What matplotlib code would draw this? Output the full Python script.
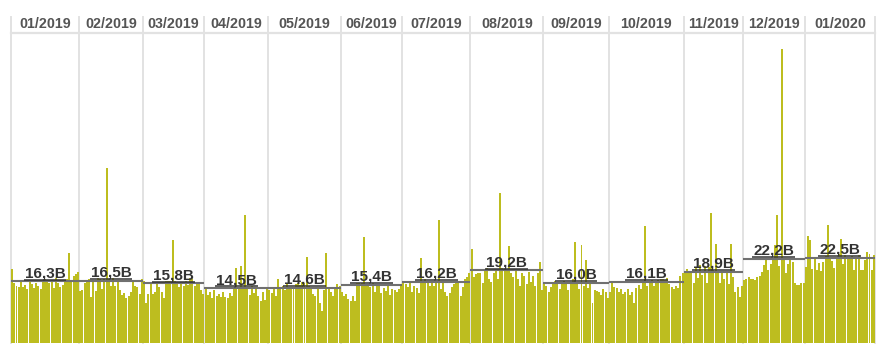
import matplotlib
matplotlib.use('Agg')
import matplotlib.pyplot as plt
import matplotlib.transforms as mtransforms
import numpy as np

plt.rcParams['font.family'] = ['Liberation Sans', 'DejaVu Sans']

months = ['01/2019', '02/2019', '03/2019', '04/2019', '05/2019', '06/2019', '07/2019',
          '08/2019', '09/2019', '10/2019', '11/2019', '12/2019', '01/2020']
avg_values = [16.3, 16.5, 15.8, 14.5, 14.6, 15.4, 16.2, 19.2, 16.0, 16.1, 18.9, 22.2, 22.5]
avg_labels = ['16,3B', '16,5B', '15,8B', '14,5B', '14,6B', '15,4B', '16,2B',
              '19,2B', '16,0B', '16,1B', '18,9B', '22,2B', '22,5B']

# daily values, in billions
jan19 = [19.5, 16.0, 15.2, 14.8, 16.4, 14.9, 15.3, 14.4, 16.5, 15.6, 14.6, 16.0, 15.0, 14.3, 16.2, 16.8,
         16.4, 15.8, 16.6, 14.5, 17.2, 16.0, 14.8, 15.3, 16.6, 17.0, 23.9, 16.4, 17.8, 18.3, 18.9]
feb19 = [13.8, 13.9, 15.8, 16.6, 17.0, 12.2, 16.5, 13.7, 17.2, 16.8, 14.3, 16.9, 46.2, 16.8, 15.0,
         17.3, 15.2, 16.4, 14.0, 12.6, 13.2, 11.8, 12.5, 13.5, 16.6, 15.0, 14.8, 13.0, 17.0]
mar19 = [16.3, 10.6, 13.0, 15.6, 13.0, 13.6, 15.6, 14.9, 13.5, 12.0, 16.3, 16.5, 16.3, 27.2, 16.5,
         16.0, 14.8, 16.2, 15.2, 16.4, 15.3, 17.3, 16.9, 15.2, 16.0, 15.5, 14.0, 13.0]
apr19 = [14.2, 12.8, 13.4, 12.0, 14.0, 12.5, 13.0, 12.3, 13.5, 12.2, 12.0, 13.2, 12.4, 14.8, 19.8,
         14.4, 20.4, 14.6, 33.9, 14.2, 12.6, 15.0, 13.2, 14.2, 12.4, 11.2, 13.5, 11.5, 14.2]
may19 = [14.0, 13.2, 14.3, 12.5, 16.8, 14.6, 15.0, 14.0, 15.5, 14.4, 14.6, 14.2, 15.6, 16.0, 15.3,
         16.2, 15.8, 22.8, 15.0, 14.4, 13.0, 12.5, 14.2, 10.5, 8.5, 14.0, 23.9, 14.2, 13.4, 12.4,
         14.8, 15.6, 15.0]
jun19 = [13.6, 12.4, 13.0, 11.6, 11.2, 12.4, 11.0, 15.8, 16.0, 15.8, 28.0, 15.2, 15.4, 14.8, 15.8,
         13.6, 15.6, 15.6, 13.2, 14.6, 13.8, 15.6, 12.8, 14.4, 14.0, 13.6, 14.4, 15.6]
jul19 = [16.5, 15.5, 14.8, 16.5, 13.6, 15.0, 14.6, 13.2, 22.4, 16.2, 16.8, 16.0, 15.2, 16.5, 15.0,
         16.0, 32.5, 14.3, 16.0, 13.5, 12.5, 13.2, 14.8, 15.6, 16.4, 16.0, 12.5, 14.8, 16.8, 17.5, 18.4]
aug19 = [24.9, 17.5, 18.3, 18.4, 18.6, 16.0, 19.0, 19.8, 17.0, 16.2, 18.5, 19.4, 17.0, 39.7, 19.8,
         19.5, 19.0, 25.7, 18.4, 17.4, 19.6, 16.8, 15.2, 18.6, 17.6, 15.5, 18.8, 16.2, 17.8, 15.0,
         18.4, 21.3, 14.0]
sep19 = [16.2, 15.0, 13.5, 14.8, 16.2, 16.4, 15.6, 14.2, 16.0, 16.5, 15.5, 14.0, 16.2, 16.8, 26.8,
         16.2, 14.4, 25.9, 15.0, 22.0, 14.6, 15.8, 10.7, 14.0, 13.8, 13.6, 12.6, 14.2, 13.4, 12.0]
oct19 = [13.6, 16.2, 14.8, 14.6, 13.4, 14.2, 13.0, 13.6, 14.2, 12.6, 13.4, 10.5, 14.6, 15.4, 14.4,
         15.8, 31.0, 15.0, 16.2, 16.6, 15.0, 16.2, 16.6, 17.0, 16.8, 16.6, 17.2, 15.6, 14.8, 14.4,
         15.2, 14.6, 17.6, 18.4]
nov19 = [18.4, 19.6, 18.9, 18.6, 15.8, 20.0, 17.1, 20.6, 18.0, 20.5, 16.0, 20.2, 34.4, 19.4, 26.2,
         19.0, 15.8, 18.4, 17.0, 19.0, 15.6, 26.2, 17.4, 13.6, 14.8, 12.2, 15.0]
dec19 = [16.6, 17.0, 17.4, 17.0, 17.0, 16.6, 17.4, 17.8, 18.9, 20.6, 22.0, 19.4, 21.0, 22.6, 25.8,
         33.9, 20.4, 77.8, 22.0, 18.4, 20.8, 22.6, 21.5, 16.0, 15.4, 15.4, 15.8, 16.0]
jan20 = [20.0, 28.3, 27.2, 19.5, 22.8, 19.2, 21.1, 19.0, 21.5, 23.0, 31.2, 22.2, 21.6, 19.8, 22.8,
         23.6, 27.4, 21.0, 23.3, 22.4, 22.4, 23.0, 19.4, 22.6, 23.2, 19.3, 19.3, 22.0, 24.0, 23.6,
         19.2, 23.4]

daily = [jan19, feb19, mar19, apr19, may19, jun19, jul19, aug19, sep19, oct19, nov19, dec19, jan20]

BAR = '#BDBD1F'
SEP = '#e2e2e2'

values = np.concatenate([np.array(m, dtype=float) for m in daily])
counts = np.array([len(m) for m in daily])
bounds = np.concatenate([[0], np.cumsum(counts)]) - 0.5
x = np.arange(len(values))

W, H = 886, 354
fig = plt.figure(figsize=(W / 100, H / 100), dpi=100)
ax = fig.add_axes([11 / W, 11 / H, 864 / W, 326 / H])
ax.set_xlim(bounds[0], bounds[-1])
ax.set_ylim(0, 326 / 3.78)
ax.axis('off')

ax.bar(x, values, width=0.9, color=BAR, linewidth=0, zorder=2)

trans = mtransforms.blended_transform_factory(ax.transData, ax.transAxes)
for b in bounds:
    ax.plot([b, b], [0, 1], transform=trans, color=SEP, lw=1.4, zorder=1, clip_on=False)
hdr = (343 - 33) / 326
ax.plot([bounds[0], bounds[-1]], [hdr, hdr], transform=trans, color=SEP, lw=1.6, zorder=1,
        clip_on=False)

texts = []
for i, m in enumerate(months):
    c = (bounds[i] + bounds[i + 1]) / 2
    ax.text(c, (343 - 24) / 326, m, transform=trans, ha='center', va='center',
            fontsize=10.3, fontweight='bold', color='#555555')
    ax.hlines(avg_values[i], bounds[i], bounds[i + 1], color='#707070', lw=1.5, zorder=3)
    t = ax.annotate(avg_labels[i], (c, avg_values[i]), xytext=(0, 3.0), textcoords='offset points',
                    ha='center', va='baseline', fontsize=11, fontweight='bold',
                    color='#333333', zorder=4)
    texts.append(t)

fig.canvas.draw()
r = fig.canvas.get_renderer()
inv = ax.transData.inverted()
for i, t in enumerate(texts):
    bb = t.get_window_extent(renderer=r)
    x0 = inv.transform((bb.x0 - 1, 0))[0]
    x1 = inv.transform((bb.x1 + 1, 0))[0]
    ax.hlines(avg_values[i] + 1.7 / 3.78, x0, x1, color='#333333', lw=1.1, zorder=4)

fig.savefig('out.png', dpi=100)
